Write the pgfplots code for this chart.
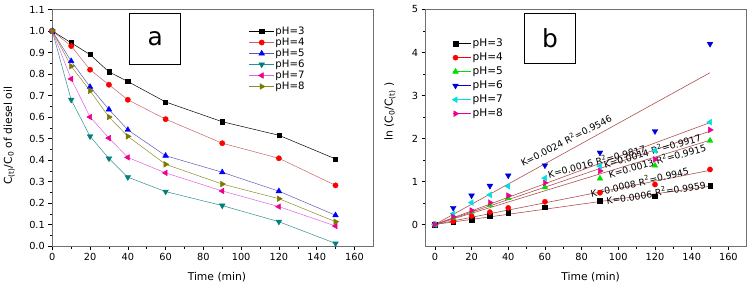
\documentclass[border=0pt]{standalone}
\usepackage{pgfplots}
\pgfplotsset{compat=1.18}
\usepackage{fontspec}
\setmainfont{DejaVu Sans}
\definecolor{lc4}{HTML}{C86464}
\definecolor{lc5}{HTML}{5A5AB4}
\definecolor{lc6}{HTML}{2F8F8F}
\definecolor{mc6}{HTML}{007F7F}
\definecolor{lc7}{HTML}{E060E0}
\definecolor{lc8}{HTML}{8C8C28}
\definecolor{mc8}{HTML}{7A7A00}
\definecolor{fitc}{HTML}{B05050}
\definecolor{grn}{HTML}{00DD00}
\definecolor{cyn}{HTML}{00E0E0}
\definecolor{frame}{HTML}{707070}
\pgfplotsset{
  mystyle/.style={
    scale only axis, width=321bp, height=236.5bp,
    axis line style={draw=frame, line width=0.6pt},
    tick align=outside, xtick pos=bottom, ytick pos=left,
    major tick length=4bp, minor tick length=2.5bp,
    every tick/.style={black, line width=0.5pt},
    minor x tick num=1, minor y tick num=1,
    tick label style={font=\fontsize{9.8}{10}\selectfont},
    label style={font=\fontsize{10.8}{12}\selectfont},
    /pgf/number format/assume math mode=true,
    xmax=170, xtick={0,20,...,160},
  }
}
\begin{document}
\begin{tikzpicture}
\useasboundingbox (0,0) rectangle (751bp,285bp);
% ---------------- panel a
\begin{axis}[mystyle, at={(52.3bp,39bp)}, anchor=south west,
  xmin=0, ymin=0, ymax=1.1, ytick={0,0.1,...,1.1},
  yticklabel style={/pgf/number format/.cd, fixed, fixed zerofill, precision=1},
  xlabel={Time (min)}, ylabel={C\textsubscript{(t)}/C\textsubscript{0} of diesel oil},
  xlabel style={at={(axis description cs:0.513,0)}, anchor=center, yshift=-31bp},
  ylabel style={at={(axis description cs:-0.134,0.466)}, anchor=center},
  legend style={draw=none, fill=none, inner sep=0pt, at={(rel axis cs:0.612,0.931)}, anchor=north west,
    font=\fontsize{10.2}{10}\selectfont, row sep=0pt,
    nodes={inner sep=1bp, text height=7bp, text depth=2bp}},
  legend cell align=left,
  legend image code/.code={\draw[mark repeat=2,mark phase=2,#1] plot coordinates {(0bp,0bp) (12.5bp,0bp) (25bp,0bp)};},
]
\addplot[black, line width=0.5pt, mark=square*, mark size=2.1bp, mark options={fill=black}] coordinates {
(0,1.0) (10,0.945) (20,0.89) (30,0.81) (40,0.765) (60,0.67) (90,0.578) (120,0.515) (150,0.405)};
\addlegendentry{pH=3}
\addplot[lc4, line width=0.5pt, mark=*, mark size=2.6bp, mark options={draw=red, fill=red}] coordinates {
(0,1.0) (10,0.93) (20,0.82) (30,0.75) (40,0.68) (60,0.59) (90,0.478) (120,0.408) (150,0.282)};
\addlegendentry{pH=4}
\addplot[lc5, line width=0.5pt, mark=triangle*, mark size=3.2bp, mark options={draw=blue, fill=blue}] coordinates {
(0,1.0) (10,0.86) (20,0.74) (30,0.635) (40,0.54) (60,0.42) (90,0.343) (120,0.255) (150,0.143)};
\addlegendentry{pH=5}
\addplot[lc6, line width=0.5pt, mark=triangle*, mark size=3.2bp, mark options={draw=mc6, fill=mc6, rotate=180}] coordinates {
(0,1.0) (10,0.68) (20,0.51) (30,0.407) (40,0.32) (60,0.253) (90,0.188) (120,0.113) (150,0.012)};
\addlegendentry{pH=6}
\addplot[lc7, line width=0.5pt, mark=triangle*, mark size=3.2bp, mark options={draw=magenta, fill=magenta, rotate=90}] coordinates {
(0,1.0) (10,0.777) (20,0.6) (30,0.502) (40,0.412) (60,0.34) (90,0.256) (120,0.183) (150,0.093)};
\addlegendentry{pH=7}
\addplot[lc8, line width=0.5pt, mark=triangle*, mark size=3.2bp, mark options={draw=mc8, fill=mc8, rotate=-90}] coordinates {
(0,1.0) (10,0.836) (20,0.722) (30,0.6) (40,0.51) (60,0.38) (90,0.288) (120,0.22) (150,0.113)};
\addlegendentry{pH=8}
\node[draw=black, line width=0.8pt, minimum width=51bp, minimum height=51bp, inner sep=0pt,
  font=\fontsize{25}{25}\selectfont] at (rel axis cs:0.3205,0.875) {a};
\end{axis}
% ---------------- panel b
\begin{axis}[mystyle, at={(425.7bp,39bp)}, anchor=south west,
  xmin=-5, ymin=-0.5, ymax=5, ytick={0,1,...,5},
  xlabel={Time (min)}, ylabel={ln (C\textsubscript{0}/C\textsubscript{(t)} )},
  xlabel style={at={(axis description cs:0.514,0)}, anchor=center, yshift=-31bp},
  ylabel style={at={(axis description cs:-0.111,0.568)}, anchor=center},
  legend style={draw=none, fill=none, inner sep=0pt, at={(rel axis cs:0.082,0.886)}, anchor=north west,
    font=\fontsize{10.6}{11}\selectfont, row sep=0pt,
    nodes={inner sep=2bp, text height=7.5bp, text depth=2.5bp}},
  legend cell align=left,
  legend image code/.code={\path (-3bp,0bp) -- (15bp,0bp); \draw[#1] plot coordinates {(0bp,0bp)};},
]
\addplot[only marks, mark=square*, mark size=2.3bp, black] coordinates {
(0,0) (10,0.057) (20,0.117) (30,0.21) (40,0.268) (60,0.40) (90,0.548) (120,0.66) (150,0.90)};
\addlegendentry{pH=3}
\addplot[only marks, mark=*, mark size=2.6bp, red] coordinates {
(0,0) (10,0.073) (20,0.198) (30,0.288) (40,0.386) (60,0.528) (90,0.738) (120,0.93) (150,1.28)};
\addlegendentry{pH=4}
\addplot[only marks, mark=triangle*, mark size=3.3bp, grn] coordinates {
(0,0) (10,0.15) (20,0.30) (30,0.454) (40,0.616) (60,0.868) (90,1.07) (120,1.37) (150,1.95)};
\addlegendentry{pH=5}
\addplot[only marks, mark=triangle*, mark size=3.3bp, blue!85!black, mark options={rotate=180}] coordinates {
(0,0) (10,0.386) (20,0.673) (30,0.899) (40,1.139) (60,1.374) (90,1.671) (120,2.17) (150,4.2)};
\addlegendentry{pH=6}
\addplot[only marks, mark=triangle*, mark size=3.3bp, cyn, mark options={rotate=90}] coordinates {
(0,0) (10,0.252) (20,0.51) (30,0.689) (40,0.887) (60,1.08) (90,1.36) (120,1.72) (150,2.38)};
\addlegendentry{pH=7}
\addplot[only marks, mark=triangle*, mark size=3.3bp, magenta, mark options={rotate=-90}] coordinates {
(0,0) (10,0.179) (20,0.326) (30,0.51) (40,0.673) (60,0.968) (90,1.245) (120,1.514) (150,2.2)};
\addlegendentry{pH=8}
% fitted lines
\addplot[fitc, line width=0.6pt, forget plot] coordinates {(0,0) (150,3.53)};
\addplot[fitc, line width=0.6pt, forget plot] coordinates {(0,0) (150,2.37)};
\addplot[fitc, line width=0.6pt, forget plot] coordinates {(0,0) (150,2.17)};
\addplot[fitc, line width=0.6pt, forget plot] coordinates {(0,0) (150,1.96)};
\addplot[fitc, line width=0.6pt, forget plot] coordinates {(0,0) (150,1.26)};
\addplot[fitc, line width=0.6pt, forget plot] coordinates {(0,0) (150,0.89)};
\begin{scope}[every node/.style={font=\fontsize{9.3}{10}\selectfont, inner sep=0pt}]
\node[rotate=27] at (axis cs:71.4,1.96) {K=0.0024 R\textsuperscript{2}=0.9546};
\node[rotate=15] at (axis cs:88.2,1.475) {K=0.0016 R\textsuperscript{2}=0.9817};
\node[rotate=16] at (axis cs:118.5,1.72) {K=0.0014 R\textsuperscript{2}=0.9917};
\node[rotate=15.7] at (axis cs:121.2,1.49) {K=0.0013 R\textsuperscript{2}=0.9915};
\node[rotate=13] at (axis cs:111.6,0.995) {K=0.0008 R\textsuperscript{2}=0.9945};
\node[rotate=9.3] at (axis cs:120.5,0.746) {K=0.0006 R\textsuperscript{2}=0.9959};
\end{scope}
\node[draw=black, line width=0.8pt, minimum width=51bp, minimum height=50bp, inner sep=0pt,
  font=\fontsize{25}{25}\selectfont] at (rel axis cs:0.387,0.879) {b};
\end{axis}
\end{tikzpicture}
\end{document}
